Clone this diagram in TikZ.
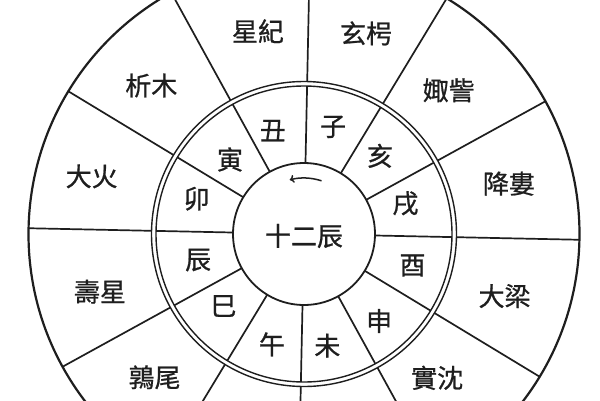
\documentclass[tikz,border=0pt]{standalone}
\usepackage{fontspec}
\usetikzlibrary{arrows.meta}
\newfontfamily\cjk[FakeBold=0.8]{Noto Sans CJK TC}
\definecolor{ink}{HTML}{1E1E1E}
\begin{document}
\begin{tikzpicture}[x=1pt,y=1pt,
  lbl/.style={font=\cjk\fontsize{26}{26}\selectfont, text=ink, inner sep=0pt},
  ringline/.style={draw=ink, line width=1.4pt},
  spoke/.style={draw=ink, line width=1.7pt}]
\useasboundingbox (-304,-166) rectangle (296,234);
\fill[white] (-304,-166) rectangle (296,234);
\clip (-304,-166) rectangle (296,234);
\begin{scope}[rotate=-1.2]
  \coordinate (c) at (0,0);
  \draw[draw=ink, line width=2.2pt] (c) circle (275.5);
  \draw[ringline] (c) circle (148);
  \draw[ringline] (c) circle (152.5);
  \draw[draw=ink, line width=1.8pt] (c) circle (71);
  \foreach \a in {0,30,...,330}{
    \draw[spoke] (\a:71) -- (\a:148);
    \draw[spoke] (\a:152.5) -- (\a:275.5);
  }
  % outer ring labels
  \node[lbl] (xingji)  at (104:208) {星紀};
  \node[lbl] (xuanxiao) at (74:210) {玄枵};
  \node[lbl] (juzi)    at (46:204) {娵訾};
  \node[lbl] (jianglou) at (15:211) {降婁};
  \node[lbl] (daliang) at (-16:210) {大梁};
  \node[lbl] (shishen) at (-46:196) {實沈};
  \node[lbl] (chunwei) at (225:207) {鶉尾};
  \node[lbl] (shouxing) at (197:212) {壽星};
  \node[lbl] (dahuo)   at (166:220) {大火};
  \node[lbl] (ximu)    at (137:213) {析木};
  % branches
  \node[lbl] (chou) at (108:108) {丑};
  \node[lbl] (zi)   at (76:111) {子};
  \node[lbl] (hai)  at (47:109) {亥};
  \node[lbl] (xu)   at (18:106) {戌};
  \node[lbl] (you)  at (-15:113) {酉};
  \node[lbl] (shen) at (-48:115) {申};
  \node[lbl] (wei)  at (-77:114) {未};
  \node[lbl] (wu)   at (255:115) {午};
  \node[lbl] (si)   at (223:108) {巳};
  \node[lbl] (chen) at (195:109) {辰};
  \node[lbl] (mao)  at (163:113) {卯};
  \node[lbl] (yin)  at (136:105) {寅};
  % centre
  \node[lbl] (shierchen) at (0,-2) {十二辰};
  \coordinate (arrA) at (73:56);
  \draw[draw=ink, line width=1.5pt, -{To[length=4.5pt,width=8pt]}] (arrA) arc[start angle=73, end angle=106, radius=56];
\end{scope}
\end{tikzpicture}
\end{document}
